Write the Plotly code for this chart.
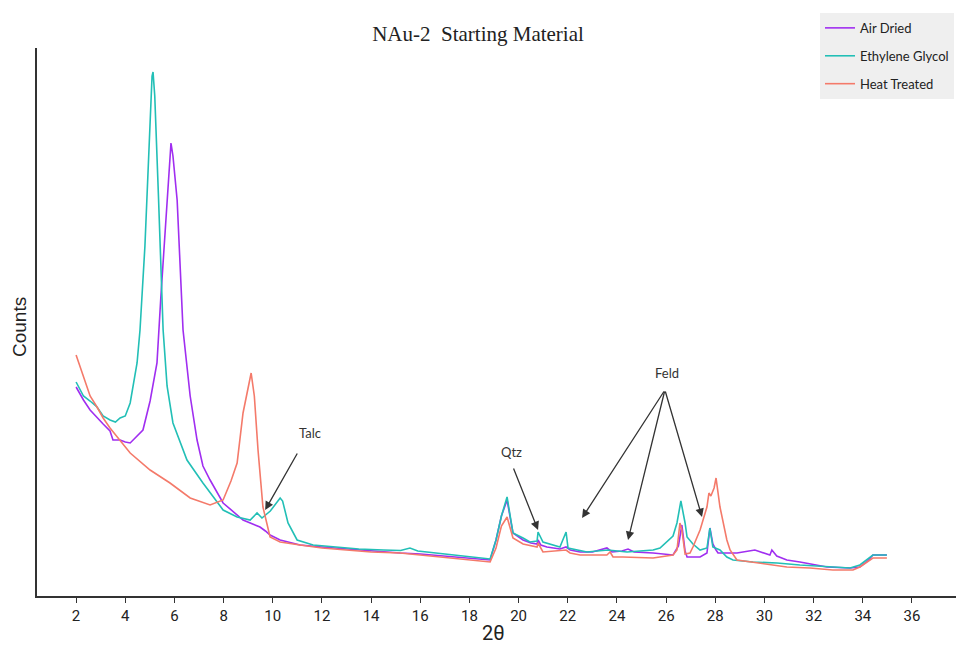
import plotly.graph_objects as go

# ---------------- data (2-theta, counts) ----------------
air_t = [2.00, 2.30, 2.57, 2.85, 3.10, 3.38, 3.50, 3.79, 4.00, 4.20, 4.48, 4.72, 5.01, 5.29, 5.45,
         5.70, 5.82, 5.86, 5.94, 6.11, 6.35, 6.64, 6.92, 7.16, 7.45, 7.98, 8.79, 9.48, 9.70, 9.89,
         10.30, 11.11, 12.0, 13.0, 14.0, 15.18, 16.0, 17.0, 18.0, 18.84, 19.08, 19.30, 19.53, 19.77,
         20.18, 20.50, 20.75, 20.79, 20.90, 21.15, 21.68, 21.93, 22.10, 22.50, 23.00, 23.59, 23.80,
         24.20, 24.45, 24.70, 25.47, 26.00, 26.28, 26.50, 26.64, 26.77, 26.85, 27.38, 27.66, 27.78,
         27.90, 28.03, 28.11, 28.88, 29.61, 30.22, 30.30, 30.50, 30.91, 31.44, 32.54, 33.48, 33.88,
         34.20, 34.41, 34.98]
air_c = [2090, 1960, 1860, 1780, 1720, 1650, 1560, 1560, 1540, 1530, 1600, 1660, 1950, 2330, 3000,
         3960, 4400, 4530, 4400, 3960, 2660, 2000, 1560, 1300, 1160, 930, 760, 690, 650, 610,
         560, 510, 490, 470, 455, 430, 420, 400, 380, 360, 560, 800, 960, 630,
         560, 530, 520, 560, 510, 490, 470, 490, 460, 440, 440, 480, 440,
         450, 470, 440, 430, 420, 410, 500, 710, 450, 390, 390, 430, 680,
         520, 460, 430, 430, 460, 410, 460, 400, 360, 340, 290, 280, 290,
         350, 410, 410]

eg_t = [2.00, 2.30, 2.57, 2.85, 3.10, 3.38, 3.60, 3.79, 4.00, 4.20, 4.48, 4.60, 4.80, 5.00, 5.09,
        5.13, 5.20, 5.35, 5.54, 5.70, 5.94, 6.51, 7.16, 7.98, 8.55, 9.08, 9.36, 9.56, 9.90, 10.30,
        10.40, 10.62, 10.99, 11.64, 12.5, 13.5, 14.5, 15.2, 15.58, 15.9, 17.0, 18.0, 18.84, 19.08,
        19.30, 19.53, 19.77, 20.18, 20.46, 20.75, 20.79, 20.99, 21.68, 21.93, 22.01, 22.78, 23.63,
        24.41, 25.47, 25.75, 26.03, 26.28, 26.44, 26.60, 26.77, 26.85, 27.09, 27.38, 27.66, 27.78,
        27.90, 28.19, 28.47, 28.72, 29.53, 30.51, 31.44, 32.54, 33.48, 33.88, 34.41, 34.98]
eg_c = [2140, 2000, 1950, 1890, 1800, 1760, 1740, 1780, 1800, 1930, 2330, 2660, 3500, 4600, 5200,
        5240, 5000, 4000, 2660, 2100, 1730, 1360, 1130, 860, 790, 760, 830, 780, 850, 980,
        950, 730, 560, 510, 490, 470, 460, 455, 480, 450, 420, 390, 370, 560,
        800, 990, 630, 580, 540, 550, 640, 540, 490, 640, 480, 440, 460,
        440, 460, 480, 540, 600, 730, 950, 730, 590, 520, 460, 480, 680,
        490, 460, 390, 360, 340, 330, 310, 290, 280, 310, 410, 410]

ht_t = [2.00, 2.30, 2.57, 2.85, 3.10, 3.38, 3.67, 4.20, 5.01, 5.82, 6.64, 7.45, 7.98, 8.30, 8.55,
        8.79, 9.12, 9.25, 9.40, 9.60, 9.89, 10.30, 11.11, 12.0, 13.0, 14.0, 15.18, 16.0, 17.0,
        18.0, 18.84, 19.08, 19.30, 19.53, 19.77, 20.18, 20.75, 20.79, 20.99, 21.93, 22.09, 22.50,
        23.59, 23.72, 23.84, 24.24, 25.47, 26.28, 26.44, 26.56, 26.64, 26.77, 26.97, 27.09, 27.38,
        27.66, 27.74, 27.82, 27.95, 28.03, 28.19, 28.47, 28.60, 28.88, 29.82, 30.91, 31.85, 32.78,
        33.60, 33.88, 34.41, 34.98]
ht_c = [2410, 2200, 2000, 1890, 1780, 1680, 1590, 1430, 1260, 1130, 980, 910, 960, 1150, 1330,
        1830, 2230, 2000, 1460, 890, 590, 540, 510, 480, 460, 440, 430, 410, 390,
        360, 340, 480, 700, 790, 580, 520, 490, 530, 440, 460, 430, 410,
        410, 440, 390, 390, 380, 410, 460, 730, 660, 420, 430, 490, 660,
        890, 1030, 1000, 1080, 1180, 890, 560, 460, 360, 330, 290, 280, 260,
        260, 290, 380, 380]

series_names = ["Air Dried", "Ethylene Glycol", "Heat Treated"]
series_colors = ["#a02ef0", "#22bfb6", "#f47a6a"]
x_ticks = list(range(2, 38, 2))

# ---------------- figure ----------------
fig = go.Figure()
for i, (tx, cy) in enumerate([(air_t, air_c), (eg_t, eg_c), (ht_t, ht_c)]):
    fig.add_trace(go.Scatter(x=tx, y=cy, mode="lines", name=series_names[i],
                             legendgroup=series_names[i],
                             line=dict(color=series_colors[i], width=1.6)))

arrow_style = dict(showarrow=True, arrowhead=2, arrowsize=1.3, arrowwidth=1.3,
                   arrowcolor="#333333", axref="x", ayref="y", text="")
# arrows: (head x, head y, tail x, tail y)
arrows = [(9.69, 860, 11.03, 1440),
          (20.79, 660, 19.77, 1290),
          (22.58, 780, 25.95, 2060),
          (24.45, 560, 25.95, 2060),
          (27.46, 790, 25.95, 2060)]
for hx, hy, tx_, ty_ in arrows:
    fig.add_annotation(x=hx, y=hy, ax=tx_, ay=ty_, **arrow_style)

labels = [("Talc", 11.52, 1630), ("Qtz", 19.73, 1440), ("Feld", 26.03, 2230)]
for txt, lx, ly in labels:
    fig.add_annotation(x=lx, y=ly, text=txt, showarrow=False,
                       font=dict(family="Lato, Open Sans, sans-serif", size=13, color="#333333"))

# axis titles
fig.add_annotation(xref="paper", yref="paper", x=-0.019, y=0.49, xanchor="center", yanchor="middle",
                   text="Counts", textangle=-90, showarrow=False,
                   font=dict(family="Liberation Sans, Arial", size=19, color="#222222"))
fig.add_annotation(xref="paper", yref="paper", x=0.497, y=-0.068, xanchor="center", yanchor="middle",
                   text="2θ", showarrow=False,
                   font=dict(family="Roboto, Liberation Sans", size=20, color="#222222"))

fig.update_layout(
    width=956, height=646,
    margin=dict(l=37, r=0, t=48, b=50, autoexpand=False),
    paper_bgcolor="white", plot_bgcolor="white",
    title=dict(text="NAu-2  Starting Material", x=0.5, xanchor="center", y=0.948, yanchor="middle",
               font=dict(family="Liberation Serif, Times New Roman, serif", size=21, color="#222222")),
    showlegend=True,
    legend=dict(x=0.852, y=1.064, xanchor="left", yanchor="top",
                bgcolor="#efefef", font=dict(family="Lato, Open Sans, sans-serif", size=13, color="#222222"),
                tracegroupgap=8, itemwidth=30),
    xaxis=dict(range=[0.41, 37.79], tickvals=x_ticks, ticktext=[str(v) for v in x_ticks],
               showgrid=False, zeroline=False, showline=True, linecolor="#333333", linewidth=1.5,
               ticks="outside", ticklen=5, tickcolor="#333333",
               tickfont=dict(family="Roboto, Liberation Sans", size=15, color="#222222")),
    yaxis=dict(range=[0, 5480], showgrid=False, zeroline=False, showline=True, linecolor="#333333",
               linewidth=1.5, showticklabels=False, ticks=""),
)

fig.write_html("out.html")
